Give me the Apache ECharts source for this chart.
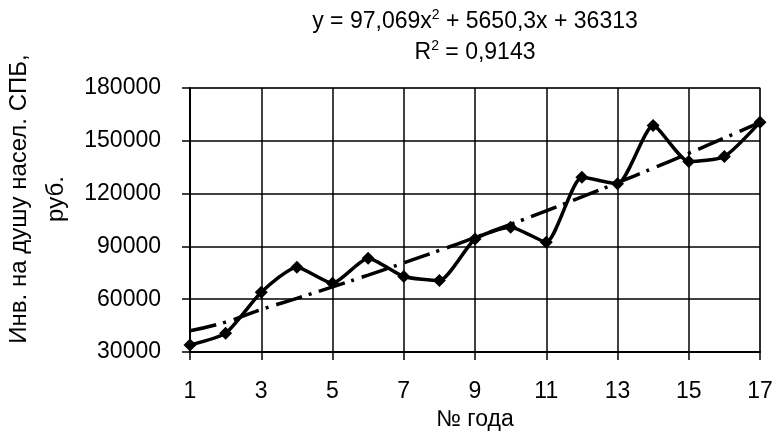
<!DOCTYPE html>
<html><head><meta charset="utf-8">
<script src="https://cdn.jsdelivr.net/npm/echarts@6/dist/echarts.min.js"></script>
<style>html,body{margin:0;padding:0;background:#fff}#c{width:776px;height:436px}</style>
</head><body><div id="c"></div>
<script>
var years = ['1','2','3','4','5','6','7','8','9','10','11','12','13','14','15','16','17'];
var invest = [34000,40700,64000,78200,69100,83300,72900,70600,94200,100900,92400,129300,125600,158700,138200,141100,160600];
var trend = [42060,47002,54138,60467,66991,73709,80622,87728,95028,102523,110212,118095,126172,134443,142908,151568,160421];
var yTicks = [30000,60000,90000,120000,150000,180000];
var eqLine1 = '{a|y = 97,069x}{s|2}{a| + 5650,3x + 36313}';
var eqLine2 = '{a|R}{s|2}{a| = 0,9143}';
var yName = 'Инв. на душу насел. СПБ,\nруб.';
var xName = '№ года';

var font = 'Arial, "Liberation Sans", sans-serif';
var FS = 23;
var richEq = {
  a: {fontSize: FS, fontFamily: font, color: '#000', lineHeight: 28},
  s: {fontSize: 14, fontFamily: font, color: '#000', verticalAlign: 'top', lineHeight: 28, padding: [0, 0, 10, 0]}
};
var chart = echarts.init(document.getElementById('c'));
chart.setOption({
  animation: false,
  backgroundColor: '#fff',
  textStyle: {fontFamily: font},
  grid: {left: 190, right: 16, top: 88, bottom: 84, show: true, borderColor: '#999', borderWidth: 1.5},
  graphic: [
    {type: 'text', x: 475, y: 22, style: {text: eqLine1, rich: richEq, align: 'center', verticalAlign: 'middle'}},
    {type: 'text', x: 475, y: 53, style: {text: eqLine2, rich: richEq, align: 'center', verticalAlign: 'middle'}},
    {type: 'text', x: 38, y: 199, rotation: Math.PI / 2,
     style: {text: yName, fontSize: 24, fontFamily: font, fill: '#000', align: 'center', verticalAlign: 'middle', lineHeight: 37}}
  ],
  xAxis: {
    type: 'category', data: years, boundaryGap: false,
    name: xName, nameLocation: 'middle', nameGap: 56,
    nameTextStyle: {fontSize: FS, color: '#000', fontFamily: font},
    axisLine: {lineStyle: {color: '#000', width: 2}},
    axisTick: {interval: 1, length: 8, lineStyle: {color: '#000', width: 1.5}},
    axisLabel: {interval: 1, fontSize: FS, color: '#000', margin: 28, fontFamily: font},
    splitLine: {show: true, interval: 1, lineStyle: {color: '#000', width: 1.5}}
  },
  yAxis: {
    type: 'value', min: yTicks[0], max: yTicks[yTicks.length - 1], interval: 30000,
    axisLine: {show: true, lineStyle: {color: '#000', width: 2}},
    axisTick: {show: true, length: 8, lineStyle: {color: '#000', width: 1.5}},
    axisLabel: {fontSize: FS, color: '#000', margin: 29, fontFamily: font, formatter: function (v) { return String(v); }},
    splitLine: {show: true, lineStyle: {color: '#000', width: 1.5}}
  },
  series: [
    {
      type: 'line', data: trend, smooth: true, symbol: 'none', z: 3,
      lineStyle: {color: '#000', width: 3.5, type: [27, 7, 3, 8]}
    },
    {
      type: 'line', data: invest, smooth: 0.2, symbol: 'diamond', symbolSize: 13, z: 4,
      itemStyle: {color: '#000'},
      lineStyle: {color: '#000', width: 3.5}
    }
  ]
});
</script></body></html>
